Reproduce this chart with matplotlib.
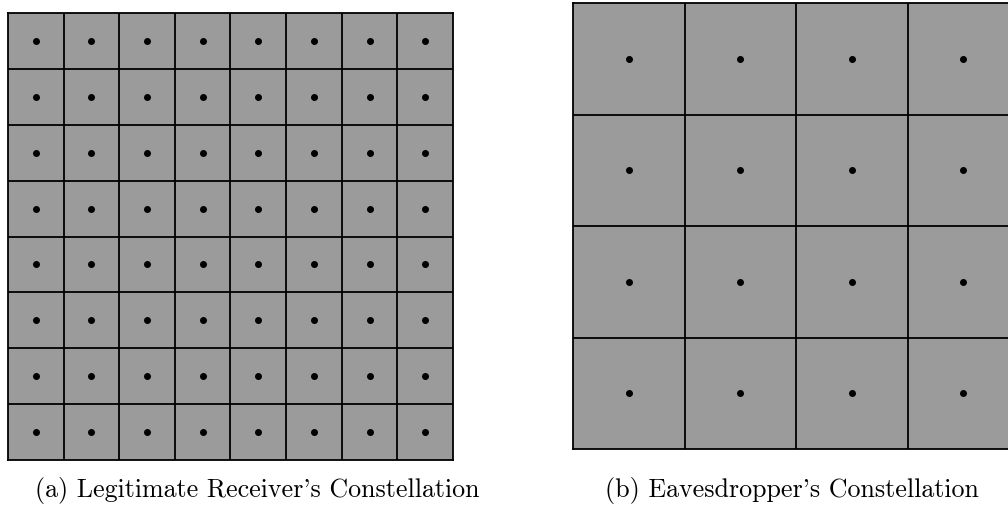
import matplotlib
matplotlib.use("Agg")
import matplotlib.pyplot as plt

# constellation levels (in-phase / quadrature) for each receiver
legit_levels = [-7, -5, -3, -1, 1, 3, 5, 7]
eve_levels = [-3, -1, 1, 3]

caption_a = "(a) Legitimate Receiver's Constellation"
caption_b = "(b) Eavesdropper's Constellation"

W, H = 1008, 514
fig = plt.figure(figsize=(W / 100, H / 100), dpi=100)


def px_axes(x0, y0, x1, y1):
    # axes from pixel box (top-left origin)
    return fig.add_axes([x0 / W, (H - y1) / H, (x1 - x0) / W, (y1 - y0) / H])


def draw_constellation(ax, levels):
    step = levels[1] - levels[0]
    lo = levels[0] - step / 2
    hi = levels[-1] + step / 2
    ax.set_facecolor("#9b9b9b")
    ax.set_xlim(lo, hi)
    ax.set_ylim(lo, hi)
    edges = [l - step / 2 for l in levels[1:]]
    for e in edges:
        ax.axvline(e, color="black", lw=1.3)
        ax.axhline(e, color="black", lw=1.3)
    xs = [i for i in levels for q in levels]
    ys = [q for i in levels for q in levels]
    ax.scatter(xs, ys, s=16, color="black", zorder=3)
    ax.set_xticks([])
    ax.set_yticks([])
    for sp in ax.spines.values():
        sp.set_linewidth(1.3)


ax1 = px_axes(8, 13, 453, 460)
draw_constellation(ax1, legit_levels)

ax2 = px_axes(573, 3, 1019, 449)
draw_constellation(ax2, eve_levels)

fonts = ["cmr10", "DejaVu Serif"]
fig.text(257 / W, 1 - 497 / H, caption_a, family=fonts, fontsize=18.7,
         ha="center", va="baseline")
fig.text(792 / W, 1 - 497 / H, caption_b, family=fonts, fontsize=18.7,
         ha="center", va="baseline")

fig.savefig("out.png", dpi=100)
